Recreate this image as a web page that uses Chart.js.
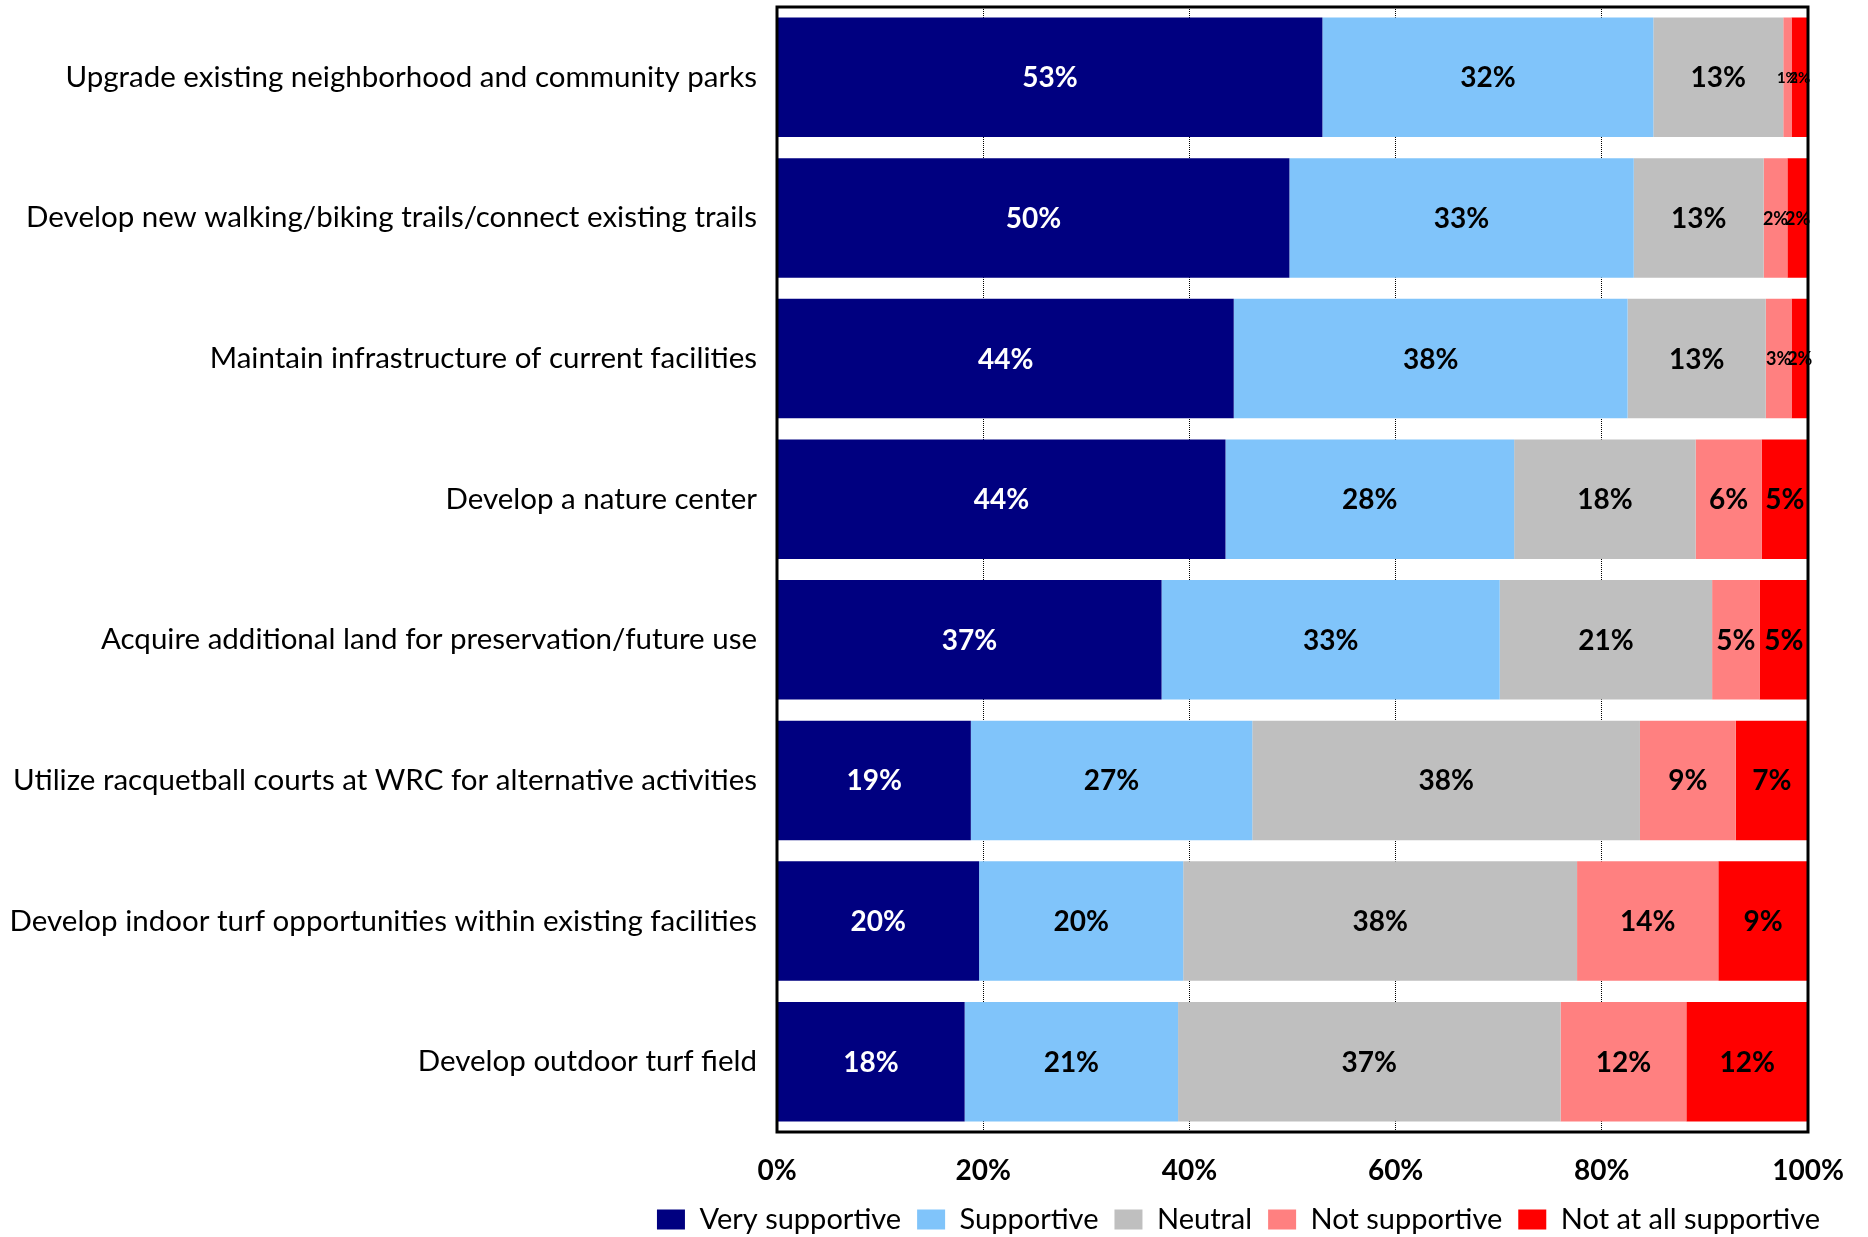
<!DOCTYPE html>
<html>
<head>
<meta charset="utf-8">
<script src="https://cdn.jsdelivr.net/npm/chart.js@4.4.0/dist/chart.umd.min.js"></script>
<style>
  html, body { margin: 0; padding: 0; background: #fff; }
  #wrap { width: 1868px; height: 1237px; }
</style>
</head>
<body>
<div id="wrap"><canvas id="chart" width="1868" height="1237"></canvas></div>
<script>
// ── Data ──────────────────────────────────────────────────────
const CATEGORIES = [
    'Upgrade existing neighborhood and community parks',
    'Develop new walking/biking trails/connect existing trails',
    'Maintain infrastructure of current facilities',
    'Develop a nature center',
    'Acquire additional land for preservation/future use',
    'Utilize racquetball courts at WRC for alternative activities',
    'Develop indoor turf opportunities within existing facilities',
    'Develop outdoor turf field',
];
const SERIES_NAMES = ['Very supportive', 'Supportive', 'Neutral', 'Not supportive', 'Not at all supportive'];
const SERIES_COLORS = ['#000080', '#80C4FA', '#BFBFBF', '#FF8080', '#FF0000'];

const VERY_SUPPORTIVE = [52.9, 49.7, 44.3, 43.5, 37.3, 18.8, 19.6, 18.2];
const SUPPORTIVE      = [32.1, 33.4, 38.2, 28.0, 32.8, 27.3, 19.8, 20.7];
const NEUTRAL         = [12.6, 12.6, 13.4, 17.6, 20.6, 37.6, 38.2, 37.1];
const NOT_SUPPORTIVE  = [0.8,  2.3,  2.5,  6.4,  4.6,  9.3,  13.7, 12.2];
const NOT_AT_ALL      = [1.6,  2.0,  1.6,  4.5,  4.7,  7.0,  8.7,  11.8];

const SERIES_VALUES = [VERY_SUPPORTIVE, SUPPORTIVE, NEUTRAL, NOT_SUPPORTIVE, NOT_AT_ALL];
const X_TICKS = [0, 20, 40, 60, 80, 100];

const FONT = "Lato, 'Open Sans', sans-serif";

// ── Plugins ───────────────────────────────────────────────────
// percentage in the middle of every segment
const segLabels = {
    id: 'segLabels',
    afterDatasetsDraw(chart) {
        const ctx = chart.ctx;
        ctx.save();
        ctx.textAlign = 'center';
        ctx.textBaseline = 'middle';
        chart.data.datasets.forEach((ds, di) => {
            const meta = chart.getDatasetMeta(di);
            meta.data.forEach((bar, i) => {
                const v = ds.data[i];
                if (v == null) return;
                let size = 28;
                if (v < 3) size = i === 0 ? 15 : 18;
                ctx.font = `bold ${size}px ${FONT}`;
                ctx.fillStyle = di === 0 ? '#fff' : '#000';
                ctx.fillText(Math.round(v) + '%', (bar.x + bar.base) / 2, bar.y + 1);
            });
        });
        ctx.restore();
    }
};

// heavy black frame round the plot area
const plotFrame = {
    id: 'plotFrame',
    afterDraw(chart) {
        const a = chart.chartArea;
        const ctx = chart.ctx;
        ctx.save();
        ctx.strokeStyle = '#000';
        ctx.lineWidth = 3;
        ctx.strokeRect(a.left, a.top, a.right - a.left, a.bottom - a.top);
        ctx.restore();
    }
};

// let the legend run a little past the plot's right edge
const legendShift = {
    id: 'legendShift',
    afterLayout(chart) {
        if (chart.legend) { chart.legend.right += 28; chart.legend.width += 28; }
    }
};

// ── Chart ─────────────────────────────────────────────────────
new Chart(document.getElementById('chart'), {
    type: 'bar',
    data: {
        labels: CATEGORIES,
        datasets: SERIES_NAMES.map((name, k) => ({
            label: name,
            data: SERIES_VALUES[k],
            backgroundColor: SERIES_COLORS[k],
            borderWidth: 0,
            categoryPercentage: 1,
            barPercentage: 0.85,
        })),
    },
    options: {
        indexAxis: 'y',
        responsive: false,
        animation: false,
        layout: { padding: { top: 7, right: 60, bottom: -7, left: 0 } },
        plugins: {
            legend: {
                position: 'bottom',
                align: 'end',
                labels: {
                    color: '#000',
                    font: { family: FONT, size: 29 },
                    boxWidth: 28, boxHeight: 20,
                    padding: 16,
                },
            },
            tooltip: { enabled: false },
        },
        scales: {
            x: {
                stacked: true,
                min: 0, max: 100,
                afterBuildTicks: s => { s.ticks = X_TICKS.map(v => ({ value: v })); },
                ticks: {
                    color: '#000',
                    font: { family: FONT, size: 28, weight: 'bold' },
                    padding: 22,
                    callback: v => v + '%',
                },
                grid: { color: '#000', lineWidth: 1, drawTicks: false },
                border: { display: false, dash: [1, 1] },
                afterFit: s => { s.height = 57; },
            },
            y: {
                stacked: true,
                ticks: {
                    color: '#000',
                    font: { family: FONT, size: 29.5 },
                    padding: 12,
                },
                grid: { display: false },
                border: { display: false },
                afterFit: s => { s.width = 777; s.paddingTop = 0; s.paddingBottom = 0; },
            },
        },
    },
    plugins: [segLabels, plotFrame, legendShift],
});
</script>
</body>
</html>
